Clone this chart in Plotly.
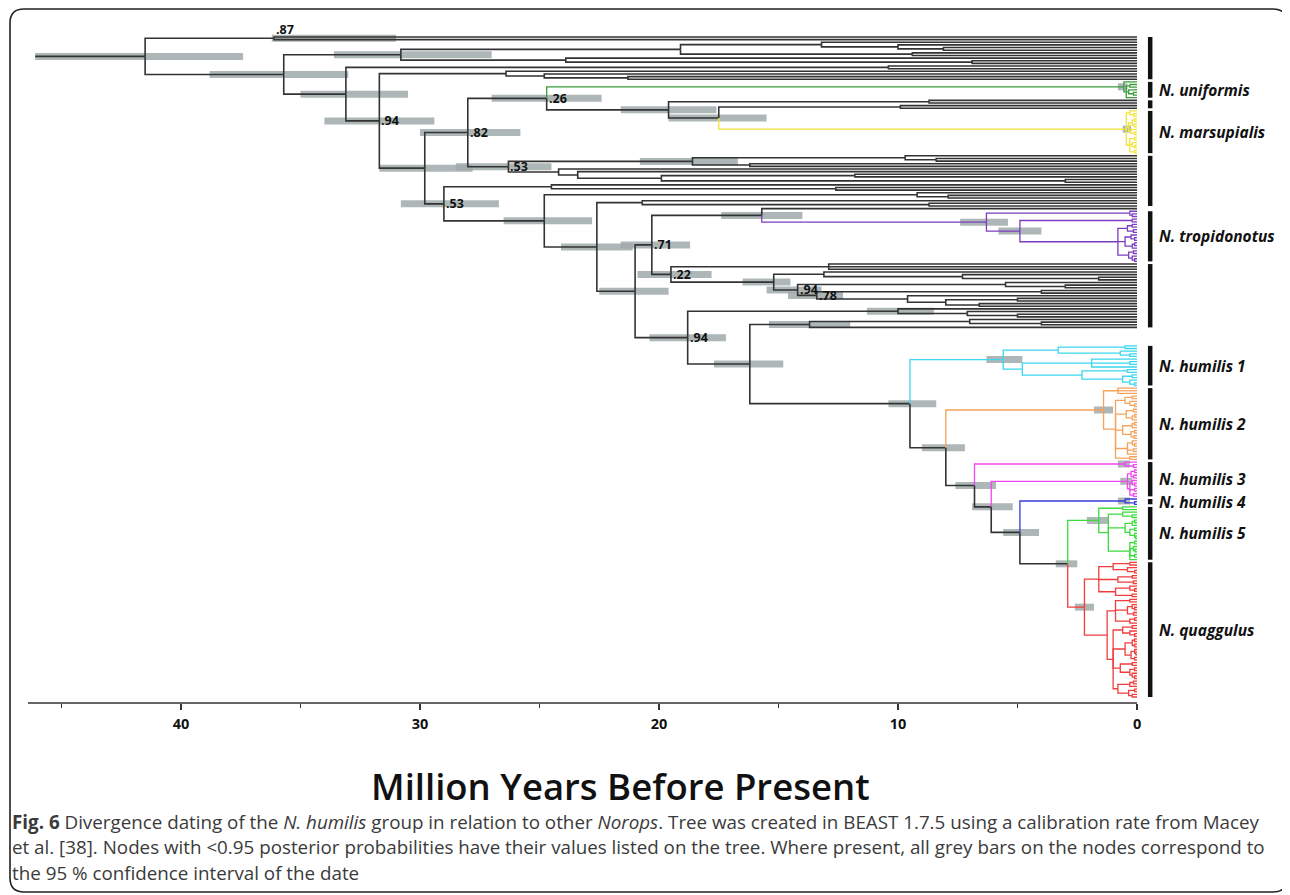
import plotly.graph_objects as go

# ---------------- data ----------------
# Tree written as Newick-like strings: "(children)name=age" (age in Mya),
# t = sampled tip (age 0), g = empty row in the tip layout.
ROOT_STEM_AGE = 46.1

N87 = "(t,t)n87=36.1"
A1 = "((t,(t,(t,t)8.1)10.0)13.2,(t,t)9.4)n681=19.1"
A2 = "(t,(t,t)6.9)a2=23.9"
B1 = "(t,t)b1=10.4"
B2 = "(t,(t,(t,t)21.3)24.8)b2=26.4"
UNI = "(t,((t,t)0.3,(t,(t,t)0.15)0.35,t)0.45)uni=0.55"
C1 = "(t,t)c1=8.7"
C2 = "(t,t)c2=9.9"
MAR = ("((t,(t,t)0.15)0.3,(((t,t)0.1,(t,t)0.12)0.2,(t,(t,t)0.1)0.25)0.35,"
       "((t,t)0.1,(t,(t,t)0.08)0.2,(t,t)0.1)0.3)mar=0.45")
D1 = "((t,(t,t)8.4)9.7,(t,t)16.2)d1=18.6"
D2 = "(t,(t,((t,t)11.8,(t,t)3.0)19.9)23.4)d2=24.2"
P = "(t,(t,t)12.6)p=24.5"
Q = "(t,(t,t)7.9)q=9.2"
R = "(t,(t,t)8.7)r=20.7"
TROP = ("((t,(t,t)0.2)0.3,((t,t)0.2,(((t,t)0.2,(t,t)0.15)0.4,((t,(t,t)0.1)0.25,((t,t)0.1,t)0.2)0.5,"
        "((t,t)0.15,(t,(t,t)0.1)0.2)0.35)n1118=0.8)n1021=4.9)trop=6.3")
E1 = "(t,t,t)e1=12.9"
N825 = "(t,(t,(t,t)1.6)7.3)n825=13.1"
N78 = "((t,t)4.0,(t,((t,t)5.0,(t,t)6.6)8.0)9.6)n78=13.4"
N899 = "(t,(t,(t,t)5.0)7.1)n899=10.0"
N809 = "((t,(t,t)4.0)7.0,t)n809=13.7"
CYAN = ("(((t,t)0.5,(t,(t,t)0.3)0.7)3.3,((t,(t,t)0.3,t)1.9,((t,t)0.4,((t,t)0.2,(t,(t,t)0.1)0.3)0.6)2.3)4.8)"
        "cyan=5.6")
ORANGE = ("((t,t,t)0.8,(((t,t)0.2,(t,(t,t)0.1)0.3)0.5,((t,t)0.15,((t,t)0.1,t)0.2)0.45,"
          "(((t,t)0.1,t)0.2,((t,t)0.1,(t,t)0.12)0.25)0.6,((t,(t,t)0.1)0.2,(t,t)0.15,t)0.4,(t,t)0.3)0.9)orange=1.4")
MAG1 = "(t,(t,t)0.15)mag1=0.5"
MAG2 = "(((t,t)0.1,(t,t)0.15)0.25,((t,(t,t)0.1)0.2,(t,t)0.1,(t,t)0.15)0.3)mag2=0.4"
BLUE = "(t,(t,t)0.1)blue=0.5"
GREEN = ("((t,t)0.6,((t,(t,t)0.2)0.6,(((t,t)0.1,t)0.2,((t,t)0.1,(t,(t,t)0.05)0.1)0.3)0.5,"
         "((t,t)0.1,(t,(t,t)0.08)0.15,(t,t)0.1,t)0.3)1.2)green=1.6")
RED1 = "(((t,t)0.3,(t,(t,t)0.1)0.4)1.0,((t,t)0.2,(t,t)0.15)0.8,((t,(t,t)0.1)0.3,(t,t)0.2)0.9)1.6"
RED2A = "((t,t)0.3,((t,(t,t)0.1)0.2,(t,t)0.15)0.4,((t,t)0.1,t)0.3)0.9"
RED2B = ("(((t,t)0.2,(t,(t,t)0.1)0.3)0.6,(((t,t)0.1,(t,t)0.1)0.2,((t,(t,t)0.05)0.1,(t,t)0.1)0.25)0.5,"
         "((t,t)0.2,((t,t)0.1,(t,(t,t)0.1)0.2)0.3)0.7,(((t,t)0.15,t)0.3,((t,t)0.1,(t,t)0.2)0.35)0.8)1.0")

RED = f"({RED1},({RED2A},{RED2B})1.25)red=2.2"
N1067 = f"({GREEN},{RED})n1067=2.9"
N1020 = f"({BLUE},{N1067})n1020=4.9"
N992 = f"({MAG2},{N1020})n992=6.1"
N975 = f"({MAG1},{N992})n975=6.8"
N945 = f"({ORANGE},{N975})n945=8.0"
HUM = f"(g,g,g,g,g,g,{CYAN},{N945})n909=9.5"
N749 = f"({N809},{HUM})n749=16.2"
N94B = f"({N899},{N749})n94b=18.8"
N94C = f"((t,(t,t)3.0)5.5,{N78})n94c=14.2"
N774 = f"({N825},{N94C})n774=15.2"
N22 = f"({E1},{N774})n22=19.5"
N762 = f"(t,{TROP})n762=15.7"
N71 = f"({N762},{N22})n71=20.3"
N634 = f"({N71},{N94B})n634=21.0"
N596 = f"({R},{N634})n596=22.6"
N545 = f"({Q},{N596})n545=24.8"
N53B = f"({P},{N545})n53b=29.0"
N718 = f"({C2},{MAR})n718=17.5"
N668 = f"({C1},{N718})n668=19.6"
N26 = f"({UNI},{N668})n26=24.7"
N53A = f"({D1},{D2})n53a=26.3"
N82 = f"({N26},{N53A})n82=28.0"
N424 = f"({N82},{N53B})n424=29.8"
N94A = f"({B2},{N424})n94a=31.7"
N345 = f"({B1},{N94A})n345=33.1"
N400 = f"({A1},{A2})n400=30.8"
N284 = f"({N400},{N345})n284=35.7"
TREE = f"({N87},{N284})root=41.5"

CLADE_COLOURS = {
    "uni": "#3a9d3a", "mar": "#f2e43a", "trop": "#7b3cc0", "cyan": "#3cd6f0",
    "orange": "#f5a35a", "mag1": "#f046f0", "mag2": "#f046f0", "blue": "#3a3ad8",
    "green": "#3cdc3c", "red": "#f23c3c",
}
BLACK = "#333333"

# 95% HPD bars on node ages (Mya)
CI_NODES = ["root", "n87", "n284", "n400", "n345", "n94a", "n424", "n82", "n53b", "n26", "n53a",
            "n668", "n718", "d1", "n545", "n596", "n634", "n71", "n762", "trop", "n1021", "n22",
            "n774", "n94c", "n78", "n94b", "n899", "n749", "n809", "n909", "cyan", "n945",
            "orange", "n975", "n992", "n1020", "n1067", "green", "red", "mag1", "mag2", "blue",
            "uni", "mar"]
CI_HIGH = [46.1, 36.2, 38.8, 33.6, 35.0, 34.0, 31.7, 30.0, 30.8, 27.0, 28.5,
           21.6, 19.6, 20.8, 26.5, 24.1, 22.5, 21.6, 17.4, 7.4, 5.8, 20.9,
           16.5, 15.5, 14.6, 20.4, 11.3, 17.7, 15.4, 10.4, 6.3, 9.0,
           1.8, 7.6, 6.9, 5.6, 3.4, 2.1, 2.6, 0.8, 0.7, 0.8,
           0.8, 0.6]
CI_LOW = [37.4, 31.0, 33.0, 27.0, 30.5, 29.4, 27.8, 25.8, 26.7, 22.4, 24.5,
          17.6, 15.5, 16.7, 22.8, 21.1, 19.6, 18.7, 14.0, 5.4, 4.0, 17.8,
          14.5, 13.2, 12.3, 17.2, 8.5, 14.8, 12.0, 8.4, 4.8, 7.2,
          1.0, 5.9, 5.2, 4.1, 2.5, 1.2, 1.8, 0.3, 0.2, 0.3,
          0.4, 0.25]

# posterior probabilities < 0.95
PP_NODES = ["n87", "n94a", "n82", "n26", "n53a", "n53b", "n71", "n22", "n94c", "n78", "n94b"]
PP_TEXT = [".87", ".94", ".82", ".26", ".53", ".53", ".71", ".22", ".94", ".78", ".94"]

# clade bars on the right
BAR_GROUPS = [["n87", "n400", "b1", "b2"], ["uni"], ["c1", "c2"], ["mar"], ["n53a", "p", "q", "r"],
              ["trop"], ["e1", "n774", "n899", "n809"], ["cyan"], ["orange"], ["mag1", "mag2"],
              ["blue"], ["green"], ["red"]]
BAR_LABELS = ["", "N. uniformis", "", "N. marsupialis", "", "N. tropidonotus", "",
              "N. humilis 1", "N. humilis 2", "N. humilis 3", "N. humilis 4", "N. humilis 5",
              "N. quaggulus"]

TICK_VALUES = [40, 30, 20, 10, 0]
MINOR_TICKS = [45, 35, 25, 15, 5]
AXIS_TITLE = "Million Years Before Present"
CAPTION = [
    "<b>Fig. 6</b> Divergence dating of the <i>N. humilis</i> group in relation to other <i>Norops</i>. "
    "Tree was created in BEAST 1.7.5 using a calibration rate from Macey",
    "et al. [38]. Nodes with &lt;0.95 posterior probabilities have their values listed on the tree. "
    "Where present, all grey bars on the nodes correspond to",
    "the 95 % confidence interval of the date",
]

# ---------------- tree parsing / layout ----------------
def parse(s):
    pos = 0

    def label():
        nonlocal pos
        st = pos
        while pos < len(s) and s[pos] not in "(),":
            pos += 1
        return s[st:pos]

    def node():
        nonlocal pos
        kids = []
        if s[pos] == "(":
            pos += 1
            kids.append(node())
            while s[pos] == ",":
                pos += 1
                kids.append(node())
            pos += 1
        lab = label()
        if not kids:
            return {"kind": lab, "age": 0.0, "kids": [], "name": None}
        name = None
        if "=" in lab:
            name, lab = lab.split("=")
        return {"kind": "n", "age": float(lab), "kids": kids, "name": name}

    return node()


tree = parse(TREE)
nodes = {}
slot = [0]


def lay(nd, colour):
    if nd["name"] in CLADE_COLOURS:
        colour = CLADE_COLOURS[nd["name"]]
    nd["col"] = colour
    if nd["name"]:
        nodes[nd["name"]] = nd
    if nd["kind"] == "t":
        nd["y"] = nd["lo"] = nd["hi"] = slot[0]
        slot[0] += 1
    elif nd["kind"] == "g":
        nd["y"] = None
        slot[0] += 1
    else:
        for k in nd["kids"]:
            lay(k, colour)
        real = [k for k in nd["kids"] if k["y"] is not None]
        ys = [k["y"] for k in real]
        nd["y"] = (min(ys) + max(ys)) / 2
        nd["lo"] = min(k["lo"] for k in real)
        nd["hi"] = max(k["hi"] for k in real)


lay(tree, BLACK)
n_slots = slot[0]

segs = {}


def add(col, xs, ys):
    d = segs.setdefault(col, ([], []))
    d[0].extend(xs + [None])
    d[1].extend(ys + [None])


def draw(nd):
    for k in nd["kids"]:
        if k["y"] is None:
            continue
        add(k["col"], [nd["age"], nd["age"], k["age"]], [nd["y"], k["y"], k["y"]])
        draw(k)


add(tree["col"], [ROOT_STEM_AGE, tree["age"]], [tree["y"], tree["y"]])
draw(tree)

# ---------------- figure ----------------
OFF = 8                      # default page margin of the html body
W, H = 1290 - OFF, 895 - OFF
ML, MR, MT = 28 - OFF, 0, 30 - OFF
AXIS_PX = 703 - OFF
MB = H - AXIS_PX
PW, PH = W - ML - MR, AXIS_PX - MT
FIRST_TIP_PX, LAST_TIP_PX = 37 - OFF, 697 - OFF
s = (LAST_TIP_PX - FIRST_TIP_PX) / (n_slots - 1)
y_range = [(AXIS_PX - FIRST_TIP_PX) / s, -(FIRST_TIP_PX - MT) / s]
X_LEFT, X_RIGHT = 46.4, -6.4

fig = go.Figure()

cx, cy = [], []
for n, hi, lo in zip(CI_NODES, CI_HIGH, CI_LOW):
    cx += [hi, lo, None]
    cy += [nodes[n]["y"], nodes[n]["y"], None]
fig.add_trace(go.Scatter(x=cx, y=cy, mode="lines", hoverinfo="skip",
                         line=dict(color="rgba(160,170,170,0.85)", width=7)))

order = [BLACK] + [c for c in segs if c != BLACK]
for col in order:
    xs, ys = segs[col]
    fig.add_trace(go.Scatter(x=xs, y=ys, mode="lines", hoverinfo="skip",
                             line=dict(color=col, width=1.6 if col == BLACK else 1.3)))

bx, by = [], []
annotations = []
for grp, lab in zip(BAR_GROUPS, BAR_LABELS):
    lo = min(nodes[n]["lo"] for n in grp)
    hi = max(nodes[n]["hi"] for n in grp)
    bx += [-0.55, -0.55, None]
    by += [lo, hi, None]
    if lab:
        annotations.append(dict(x=-0.85, y=(lo + hi) / 2, xref="x", yref="y", text=f"<b><i>{lab}</i></b>",
                                showarrow=False, xanchor="left", yanchor="middle",
                                font=dict(family="Open Sans", size=15.5, color="#111")))
fig.add_trace(go.Scatter(x=bx, y=by, mode="lines", hoverinfo="skip",
                         line=dict(color="#111", width=4.5)))

for n, txt in zip(PP_NODES, PP_TEXT):
    nd = nodes[n]
    annotations.append(dict(x=nd["age"], y=nd["y"], xref="x", yref="y", text=f"<b>{txt}</b>",
                            showarrow=False, xanchor="left", yanchor="middle", xshift=0,
                            yshift=9 if n == "n87" else 0,
                            font=dict(family="Open Sans", size=12.5, color="#111")))


def PX(x):
    return (x - OFF - ML) / PW


def PY(y):
    return (AXIS_PX - (y - OFF)) / PH


annotations.append(dict(x=PX(620), y=PY(786), xref="paper", yref="paper", text=AXIS_TITLE,
                        showarrow=False, xanchor="center", yanchor="middle",
                        font=dict(family="Open Sans", size=36.5, color="#111", weight=600)))
for i, line in enumerate(CAPTION):
    annotations.append(dict(x=PX(10), y=PY(822 + 25.5 * i), xref="paper", yref="paper", text=line,
                            showarrow=False, xanchor="left", yanchor="middle",
                            font=dict(family="Open Sans", size=18.8, color="#3a3a3a")))

xspan = X_LEFT - X_RIGHT
shapes = [
    dict(type="line", xref="paper", yref="paper", x0=0, x1=X_LEFT / xspan, y0=0, y1=0,
         line=dict(color="#333", width=1.5)),
]
x0, x1, y0, y1, r = 10, 1287, 9, 892, 14
path = (f"M {PX(x0 + r)},{PY(y0)} L {PX(x1 - r)},{PY(y0)} Q {PX(x1)},{PY(y0)} {PX(x1)},{PY(y0 + r)} "
        f"L {PX(x1)},{PY(y1 - r)} Q {PX(x1)},{PY(y1)} {PX(x1 - r)},{PY(y1)} "
        f"L {PX(x0 + r)},{PY(y1)} Q {PX(x0)},{PY(y1)} {PX(x0)},{PY(y1 - r)} "
        f"L {PX(x0)},{PY(y0 + r)} Q {PX(x0)},{PY(y0)} {PX(x0 + r)},{PY(y0)} Z")
shapes.append(dict(type="path", xref="paper", yref="paper", path=path, line=dict(color="#222", width=1.6)))

fig.update_layout(
    width=W, height=H, margin=dict(l=ML, r=MR, t=MT, b=MB),
    paper_bgcolor="white", plot_bgcolor="white", showlegend=False,
    xaxis=dict(range=[X_LEFT, X_RIGHT], tickvals=TICK_VALUES,
               ticktext=[f"<b>{v}</b>" for v in TICK_VALUES],
               ticks="outside", ticklen=6, tickwidth=1.5, tickcolor="#333",
               ticklabelstandoff=2,
               showgrid=False, zeroline=False, showline=False,
               tickfont=dict(family="Open Sans", size=14.5, color="#111"),
               minor=dict(tickvals=MINOR_TICKS, ticks="outside", ticklen=4, tickwidth=1.3,
                          tickcolor="#333", showgrid=False)),
    yaxis=dict(range=y_range, visible=False, showgrid=False, zeroline=False),
    annotations=annotations, shapes=shapes,
)

fig.write_html("out.html")
